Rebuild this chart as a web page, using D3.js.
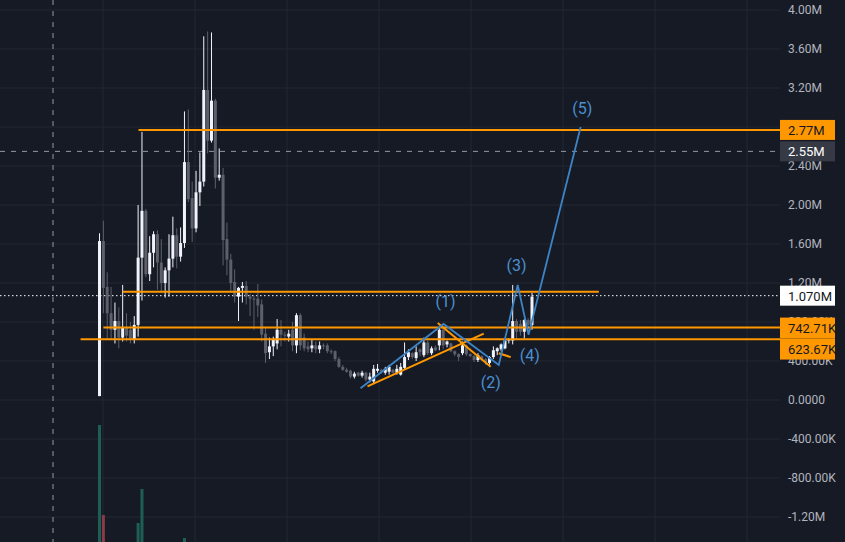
<!DOCTYPE html>
<html><head><meta charset="utf-8">
<script src="https://cdn.jsdelivr.net/npm/d3@7/dist/d3.min.js"></script>
<style>body{margin:0;background:#161a25;}svg{display:block;}</style>
</head><body><svg id="c" width="845" height="542"></svg>
<script>
// OHLC in millions
const opens  = [.04,1.63,1.16,.89,.72,.81,.64,.74,.72,.62,.77,1.46,1.94,1.29,1.51,1.70,1.41,1.2,1.33,1.45,1.69,1.47,1.61,2.44,2.07,1.76,2.13,2.24,3.18,2.66,3.07,2.28,2.31,1.65,1.44,1.21,1.06,1.15,1.17,1.06,1.04,1.04,.98,.68,
.49,.55,.58,.72,.67,.65,.72,.56,.87,.64,.55,.53,.56,.52,.56,.56,.50,.50,.42,.34,.31,.30,.24,.28,.25,.28,.21,.19,.30,.31,.28,.29,.31,.28,.26,.33,.44,.48,.43,.52,.46,.59,.48,.54,.56,.72,.57,.58,.50,.47,.48,.56,.47,.45,.41,.45,.42,.38,.44,.50,.52,.53,.61,.61,.81,.78,.70,.82,.77];
const highs  = [1.71,1.84,1.31,1.16,1.0,.95,1.18,.89,.8,.86,2.0,2.75,1.96,1.68,1.73,1.74,1.65,1.36,1.70,1.88,1.76,1.77,2.96,2.98,2.24,2.35,2.54,3.73,3.78,3.77,3.09,2.58,2.38,1.82,1.5,1.34,1.16,1.21,1.22,1.09,1.07,1.19,1.03,.75,
.64,.65,.83,.82,.70,.72,.80,.89,.89,.68,.60,.62,.60,.60,.58,.58,.52,.51,.44,.36,.33,.31,.29,.29,.30,.29,.28,.36,.37,.32,.34,.36,.32,.36,.38,.59,.52,.49,.55,.53,.64,.61,.55,.56,.75,.75,.61,.59,.51,.48,.60,.57,.48,.46,.48,.46,.43,.45,.55,.54,.58,.63,.63,1.18,.83,.82,.83,.84,1.10];
const lows   = [.04,.89,.62,.62,.58,.53,.6,.6,.58,.58,.65,1.02,1.26,1.22,1.36,1.13,1.1,1.05,1.06,1.36,1.35,1.42,1.56,2.03,1.62,1.72,1.99,2.19,2.53,2.64,2.17,2.25,1.38,1.28,1.1,1.0,.81,1.0,.98,.86,.72,.85,.6,.38,
.42,.45,.52,.55,.60,.60,.50,.48,.51,.50,.49,.49,.48,.48,.52,.48,.47,.40,.33,.30,.28,.22,.22,.24,.23,.19,.18,.17,.28,.27,.26,.26,.27,.26,.25,.31,.41,.42,.40,.45,.44,.46,.46,.50,.51,.52,.54,.49,.45,.40,.46,.45,.44,.39,.39,.40,.36,.36,.42,.46,.50,.52,.58,.57,.62,.66,.63,.70,.72];
const closes = [1.63,1.15,.89,.72,.81,.64,.74,.66,.62,.77,1.46,1.94,1.29,1.51,1.70,1.41,1.2,1.33,1.45,1.69,1.47,1.61,2.44,2.06,1.76,2.13,2.24,3.18,2.66,3.07,2.28,2.31,1.64,1.44,1.20,1.06,1.15,1.17,1.06,1.04,1.03,.97,.67,.48,
.55,.62,.72,.67,.66,.68,.56,.87,.56,.53,.52,.56,.52,.56,.55,.50,.49,.42,.34,.31,.29,.24,.27,.25,.28,.21,.24,.32,.32,.29,.32,.34,.28,.32,.34,.44,.49,.44,.49,.49,.59,.48,.53,.51,.72,.56,.60,.50,.47,.44,.56,.47,.45,.41,.46,.42,.39,.44,.51,.53,.57,.61,.62,.81,.70,.70,.82,.77,1.06];
// volume bars: candle index, volume (arbitrary units), up?
const volIdx = [0,1,10,11,22];
const volVal = [117,27,19,53,4];
const volUp  = [true,false,true,true,true];
// y-axis ticks (millions); 2.80M is hidden behind the price label in the reference
const gridVals = [4.0,3.6,3.2,2.8,2.4,2.0,1.6,1.2,0.8,0.4,0,-0.4,-0.8,-1.2];
const tickVals = [4.0,3.6,3.2,2.4,2.0,1.6,1.2,0.8,0.4,0,-0.4,-0.8,-1.2];
const tickLabels = ["4.00M","3.60M","3.20M","2.40M","2.00M","1.60M","1.20M","800.00K","400.00K","0.0000","-400.00K","-800.00K","-1.20M"];
// horizontal levels: value, start index, end index (null = to axis), label
const levelVals = [2.77,1.11,0.74271,0.62367];
const levelStart = [10.1,6.0,1.0,-4.9];
const levelEnd = [null,129.3,null,null];
const levelLabels = ["2.77M",null,"742.71K","623.67K"];
// Elliott wave points (index, value)
const waveI = [67.6,89.1,103.4,108.3,111.1,124.6];
const waveV = [0.12,0.78,0.36,1.18,0.67,2.80];
const waveLabels = ["(1)","(2)","(3)","(4)","(5)"];
const waveLabI = [89.6,101.3,108.0,111.4,125.0];
const waveLabV = [1.00,0.17,1.37,0.44,2.98];
// orange trend lines: [i1,v1,i2,v2]
const trendLines = [[69.4,0.14,99.5,0.68],[87.6,0.79,101.3,0.34],[103.4,0.48,106.5,0.44]];
const crossVal = 2.55, lastVal = 1.07;

const svg = d3.select("#c");
const W=845,H=542,axisX=780;
const n = opens.length;
const x = d3.scaleLinear().domain([0,n-1]).range([99.5,532]);
const y = d3.scaleLinear().domain([0,4]).range([400,10]);
const vy = d3.scaleLinear().domain([0,117]).range([542,425]);

svg.append("rect").attr("width",W).attr("height",H).attr("fill","#161a25");
const gx = [103,195,287,379,471,563,655,747];
svg.selectAll(".vg").data(gx).enter().append("line").attr("x1",d=>d).attr("x2",d=>d).attr("y1",0).attr("y2",H).attr("stroke","#232632");
svg.selectAll(".hg").data(gridVals).enter().append("line").attr("x1",0).attr("x2",axisX).attr("y1",d=>y(d)).attr("y2",d=>y(d)).attr("stroke","#232632");
svg.selectAll(".tl").data(tickVals).enter().append("text").attr("x",788).attr("y",d=>y(d)+4)
  .attr("fill","#b2b5be").attr("font-family","Roboto, sans-serif").attr("font-size",12).text((d,i)=>tickLabels[i]);
volIdx.forEach((vi,k)=>{
  svg.append("rect").attr("x",x(vi)-1.5).attr("width",3).attr("y",vy(volVal[k])).attr("height",542-vy(volVal[k]))
   .attr("fill",volUp[k]?"#1e5f55":"#8c3a45");
});
svg.append("line").attr("x1",53).attr("x2",53).attr("y1",0).attr("y2",H).attr("stroke","#9598a1").attr("stroke-dasharray","5,6");
svg.append("line").attr("x1",0).attr("x2",axisX).attr("y1",y(crossVal)).attr("y2",y(crossVal)).attr("stroke","#9598a1").attr("stroke-dasharray","5,6");
svg.append("line").attr("x1",0).attr("x2",axisX).attr("y1",y(lastVal)).attr("y2",y(lastVal)).attr("stroke","#ffffff").attr("stroke-dasharray","1.5,2.5");
const cg = svg.append("g");
d3.range(n).forEach(i=>{
  const up = closes[i]>=opens[i];
  const col = up?"#f0f3fa":"#5d606b";
  cg.append("line").attr("x1",x(i)).attr("x2",x(i)).attr("y1",y(highs[i])).attr("y2",y(lows[i])).attr("stroke",col).attr("stroke-width",1);
  const t=y(Math.max(opens[i],closes[i])), b=y(Math.min(opens[i],closes[i]));
  cg.append("rect").attr("x",x(i)-1.5).attr("width",3).attr("y",t).attr("height",Math.max(1,b-t)).attr("fill",col);
});
levelVals.forEach((v,k)=>{
  svg.append("line").attr("x1",x(levelStart[k])).attr("x2",levelEnd[k]==null?axisX:x(levelEnd[k]))
   .attr("y1",y(v)).attr("y2",y(v)).attr("stroke","#ff9800").attr("stroke-width",2);
});
trendLines.forEach(t=>{
  svg.append("line").attr("x1",x(t[0])).attr("y1",y(t[1])).attr("x2",x(t[2])).attr("y2",y(t[3])).attr("stroke","#ff9800").attr("stroke-width",2);
});
svg.append("path").attr("d",d3.line().x((d,i)=>x(waveI[i])).y((d,i)=>y(waveV[i]))(waveI))
  .attr("fill","none").attr("stroke","#3d84c6").attr("stroke-width",1.8);
waveLabels.forEach((l,k)=>{
  svg.append("text").attr("x",x(waveLabI[k])).attr("y",y(waveLabV[k])).attr("text-anchor","middle").attr("dominant-baseline","middle")
   .attr("fill","#4a90d0").attr("font-family","Roboto, sans-serif").attr("font-size",16).text(l);
});
// price label boxes (top y, height)
function box(top,h,label,bg,fg){
  svg.append("rect").attr("x",axisX).attr("y",top).attr("width",55).attr("height",h).attr("fill",bg);
  svg.append("text").attr("x",axisX+8).attr("y",top+h/2+5).attr("fill",fg).attr("font-family","Roboto, sans-serif").attr("font-size",13).text(label);
}
box(y(crossVal)-10,20,"2.55M","#363a45","#ffffff");
box(y(levelVals[0])-10,20,levelLabels[0],"#ff9800","#131722");
box(y(lastVal)-10,20,"1.070M","#ffffff","#131722");
box(y(levelVals[2])-10,21,levelLabels[2],"#ff9800","#131722");
box(y(levelVals[2])+11,21,levelLabels[3],"#ff9800","#131722");
</script></body></html>
